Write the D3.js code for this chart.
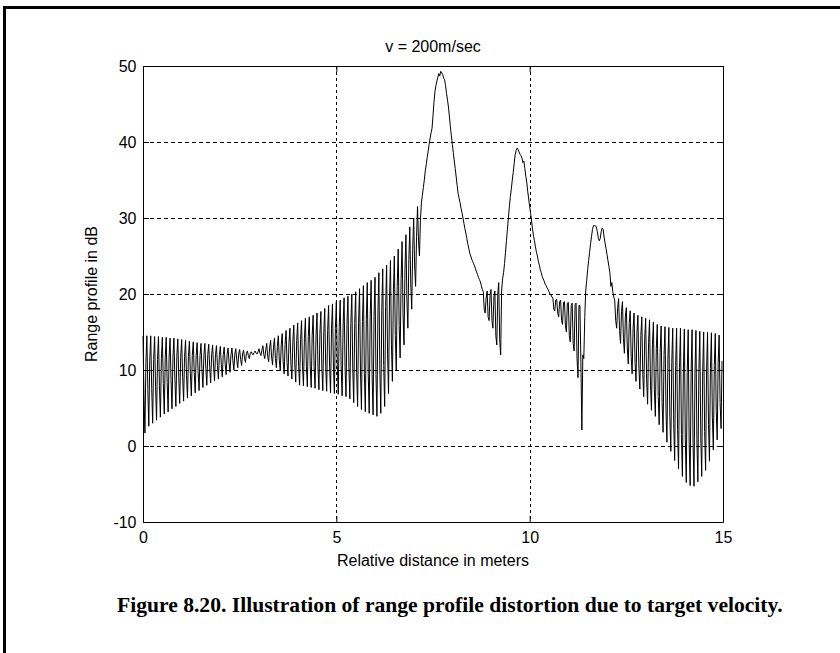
<!DOCTYPE html>
<html>
<head>
<meta charset="utf-8">
<script src="https://cdn.jsdelivr.net/npm/d3@7"></script>
<style>
    body { margin: 0; background: #fff; }
    .axis text, .label { font-family: "Liberation Sans", Arial, sans-serif; font-size: 16px; fill: #000; }
    .caption { font-family: "Liberation Serif", "Times New Roman", serif; font-weight: bold; font-size: 21.6px; fill: #000; }
</style>
</head>
<body>
<div id="chart"></div>
<script>
// range profile in dB, one sample every 0.025 m
// each 0.1 m cell holds 4 samples: top, inner low, bottom, inner high
const sampleStep = 0.025;

const topDb = [
    14.5, 14.5, 14.5, 14.4, 14.4, 14.3, 14.3, 14.2, 14.2, 14.1,
    14.0, 13.9, 13.8, 13.7, 13.6, 13.5, 13.5, 13.4, 13.3, 13.2,
    13.1, 13.0, 12.9, 12.9, 12.8, 12.7, 12.6, 12.5, 12.4, 12.5,
    12.8, 13.2, 13.5, 13.9, 14.2, 14.5, 14.8, 15.2, 15.5, 15.9,
    16.2, 16.5, 16.8, 17.0, 17.2, 17.5, 17.7, 18.1, 18.5, 18.7,
    19.0, 19.2, 19.5, 19.7, 20.0, 20.3, 20.7, 21.1, 21.5, 21.8,
    22.2, 22.8, 23.3, 23.8, 24.4, 25.0, 25.9, 26.9, 27.8, 28.8,
    30.0, 31.5, 32.0, 36.2, 39.7, 43.5, 48.0, 49.3, 48.2, 44.6,
    39.7, 35.4, 32.0, 29.3, 26.6, 24.6, 23.3, 21.9, 20.3, 20.4,
    20.6, 20.4, 21.5, 22.0, 27.0, 32.8, 37.2, 39.0, 37.9, 35.5,
    31.5, 27.6, 25.0, 22.8, 21.3, 20.3, 19.5, 19.3, 19.2, 19.0,
    18.9, 18.8, 18.8, 18.5, 11.5, 23.2, 27.6, 29.0, 27.0, 28.5,
    25.2, 21.0, 19.2, 19.4, 19.0, 18.2, 17.8, 17.5, 17.2, 17.0,
    16.8, 16.6, 16.3, 16.0, 15.8, 15.7, 15.6, 15.5, 15.5, 15.5,
    15.4, 15.3, 15.3, 15.2, 15.1, 15.0, 15.0, 14.9, 14.8, 14.6
];

const innerLowDb = [
    6.8, 7.4, 7.6, 7.8, 8.0, 8.2, 8.4, 8.6, 8.8, 9.0,
    9.1, 9.3, 9.5, 9.7, 9.8, 10.0, 10.2, 10.3, 10.5, 10.6,
    10.7, 10.8, 11.0, 11.2, 11.3, 11.4, 11.6, 11.9, 12.1, 12.2,
    12.2, 12.0, 11.8, 11.7, 11.5, 11.3, 11.1, 11.0, 10.8, 10.7,
    10.5, 10.5, 10.5, 10.5, 10.5, 10.4, 10.4, 10.5, 10.5, 10.4,
    10.5, 10.4, 10.4, 10.3, 10.0, 9.7, 9.6, 9.5, 9.5, 9.4,
    9.4, 9.9, 10.6, 12.0, 13.3, 14.5, 15.9, 17.4, 19.2, 21.2,
    23.7, 27.0, 33.0, 37.0, 40.5, 45.2, 48.5, 49.1, 47.4, 43.3,
    38.6, 34.3, 31.3, 28.6, 26.0, 24.3, 22.9, 21.6, 18.0, 17.0,
    16.5, 14.5, 14.0, 22.8, 28.5, 33.8, 38.3, 38.7, 37.3, 34.7,
    30.6, 27.0, 24.3, 22.3, 21.1, 20.0, 18.0, 17.5, 16.5, 15.8,
    14.5, 13.5, 11.5, 11.0, 17.0, 24.4, 28.5, 28.8, 27.3, 27.5,
    24.4, 21.5, 16.5, 15.2, 14.1, 12.9, 11.8, 11.0, 10.2, 9.4,
    8.7, 8.0, 7.4, 6.5, 5.7, 4.8, 3.9, 3.0, 2.2, 1.5,
    0.9, 0.5, 0.5, 0.9, 1.3, 1.9, 2.8, 3.8, 4.7, 5.7
];

const bottomDb = [
    1.7, 2.6, 3.0, 3.4, 3.8, 4.2, 4.5, 4.9, 5.2, 5.6,
    5.9, 6.3, 6.6, 7.0, 7.3, 7.7, 8.0, 8.3, 8.6, 8.8,
    9.1, 9.4, 9.7, 10.0, 10.3, 10.6, 11.0, 11.5, 12.0, 12.1,
    11.9, 11.5, 11.1, 10.7, 10.3, 9.9, 9.5, 9.2, 8.8, 8.4,
    8.0, 7.9, 7.8, 7.7, 7.6, 7.4, 7.3, 7.2, 7.0, 6.9,
    6.8, 6.6, 6.5, 6.2, 5.7, 5.2, 4.8, 4.5, 4.3, 4.1,
    3.9, 4.3, 5.2, 6.9, 8.5, 10.0, 11.6, 13.3, 15.5, 18.0,
    21.0, 25.0, 34.0, 38.0, 41.2, 46.6, 49.0, 48.9, 46.4, 42.0,
    37.5, 33.2, 30.7, 28.0, 25.4, 24.0, 22.6, 21.1, 17.5, 16.5,
    15.5, 13.3, 12.0, 24.0, 30.0, 35.0, 38.9, 38.4, 37.5, 33.5,
    29.6, 26.2, 23.8, 22.0, 20.8, 19.9, 17.8, 17.0, 16.0, 15.0,
    13.7, 12.5, 9.0, 2.1, 20.5, 25.5, 29.0, 28.2, 28.2, 26.7,
    23.6, 20.3, 15.5, 13.5, 12.2, 10.8, 9.5, 8.5, 7.5, 6.5,
    5.5, 4.7, 3.9, 2.8, 1.8, 0.5, -0.7, -1.9, -3.0, -4.0,
    -4.8, -5.2, -5.3, -4.7, -4.0, -3.2, -2.0, -0.5, 0.8, 2.3
];

const innerHighDb = [
    11.0, 11.3, 11.4, 11.4, 11.5, 11.6, 11.7, 11.7, 11.8, 11.8,
    11.8, 11.8, 11.9, 11.9, 11.9, 11.9, 12.0, 12.0, 12.0, 12.0,
    12.0, 12.0, 12.0, 12.1, 12.1, 12.1, 12.2, 12.2, 12.3, 12.4,
    12.6, 12.7, 12.9, 13.0, 13.1, 13.3, 13.4, 13.6, 13.7, 13.9,
    14.0, 14.2, 14.4, 14.5, 14.6, 14.8, 14.9, 15.2, 15.4, 15.5,
    15.7, 15.8, 16.0, 16.1, 16.1, 16.2, 16.4, 16.6, 16.9, 17.0,
    17.3, 17.8, 18.4, 19.2, 20.1, 21.0, 22.0, 23.2, 24.5, 25.9,
    27.6, 29.7, 35.0, 38.8, 41.8, 47.4, 48.7, 48.4, 45.5, 40.8,
    36.5, 32.6, 30.0, 27.3, 25.0, 23.7, 22.2, 20.6, 19.5, 19.8,
    19.6, 20.0, 20.5, 25.5, 31.5, 36.0, 39.2, 38.2, 36.5, 32.5,
    28.5, 25.5, 23.2, 21.7, 20.6, 19.6, 19.2, 19.0, 18.9, 18.8,
    18.5, 18.6, 18.5, 12.0, 21.8, 26.6, 29.0, 27.4, 28.7, 26.0,
    22.8, 19.6, 18.2, 17.7, 17.1, 16.1, 15.5, 15.0, 14.5, 14.1,
    13.6, 13.3, 12.8, 12.3, 11.9, 11.4, 11.0, 10.6, 10.3, 10.0,
    9.7, 9.6, 9.5, 9.6, 9.8, 9.9, 10.2, 10.6, 10.9, 11.2
];

const xTicks = [0, 5, 10, 15];
const yTicks = [-10, 0, 10, 20, 30, 40, 50];
const xGrid = [5, 10];
const yGrid = [0, 10, 20, 30, 40];

const titleText = 'v = 200m/sec';
const xLabelText = 'Relative distance in meters';
const yLabelText = 'Range profile in dB';
const captionText = 'Figure 8.20. Illustration of range profile distortion due to target velocity.';

class RangeProfileChart {

    constructor(_config, _data) {
        this.config = {
            parentElement: _config.parentElement,
            containerWidth: _config.containerWidth || 840,
            containerHeight: _config.containerHeight || 653,
            margin: _config.margin || { top: 66, right: 117, bottom: 131, left: 143 }
        };
        this.data = _data;
        this.initVis();
    }

    initVis() {
        let vis = this;

        vis.width = vis.config.containerWidth - vis.config.margin.left - vis.config.margin.right;
        vis.height = vis.config.containerHeight - vis.config.margin.top - vis.config.margin.bottom;

        vis.svg = d3.select(vis.config.parentElement)
            .append('svg')
            .attr('width', vis.config.containerWidth)
            .attr('height', vis.config.containerHeight);

        // page frame (only top and left edge are visible)
        vis.svg.append('rect')
            .attr('x', 4.5)
            .attr('y', 7.5)
            .attr('width', 1000)
            .attr('height', 1000)
            .attr('fill', 'none')
            .attr('stroke', '#000')
            .attr('stroke-width', 3);

        vis.chart = vis.svg.append('g')
            .attr('transform', `translate(${vis.config.margin.left},${vis.config.margin.top})`);

        vis.xScale = d3.scaleLinear()
            .domain([0, 15])
            .range([0, vis.width]);

        vis.yScale = d3.scaleLinear()
            .domain([-10, 50])
            .range([vis.height, 0]);

        vis.updateVis();
    }

    updateVis() {
        let vis = this;

        vis.points = [];
        vis.data.top.forEach((v, k) => {
            const phases = [vis.data.top[k], vis.data.innerLow[k], vis.data.bottom[k], vis.data.innerHigh[k]];
            phases.forEach((y, j) => {
                vis.points.push({ x: (k * 4 + j) * sampleStep, y: y });
            });
        });

        vis.line = d3.line()
            .x(d => vis.xScale(d.x))
            .y(d => vis.yScale(d.y));

        vis.renderVis();
    }

    renderVis() {
        let vis = this;

        // dotted grid
        vis.chart.append('g')
            .selectAll('line.vgrid')
            .data(xGrid)
            .join('line')
            .attr('class', 'vgrid')
            .attr('x1', d => Math.round(vis.xScale(d)) + 0.5)
            .attr('x2', d => Math.round(vis.xScale(d)) + 0.5)
            .attr('y1', 0)
            .attr('y2', vis.height)
            .attr('stroke', '#000')
            .attr('stroke-dasharray', '3,3');

        vis.chart.append('g')
            .selectAll('line.hgrid')
            .data(yGrid)
            .join('line')
            .attr('class', 'hgrid')
            .attr('x1', 0)
            .attr('x2', vis.width)
            .attr('y1', d => Math.round(vis.yScale(d)) + 0.5)
            .attr('y2', d => Math.round(vis.yScale(d)) + 0.5)
            .attr('stroke', '#000')
            .attr('stroke-dasharray', '4,3');

        // the profile
        vis.chart.append('path')
            .datum(vis.points)
            .attr('fill', 'none')
            .attr('stroke', '#000')
            .attr('stroke-width', 1)
            .attr('d', vis.line);

        // axes with inward ticks on all four sides, plain hyphen for negatives
        const plain = d => String(d);
        const xAxis = d3.axisBottom(vis.xScale).tickValues(xTicks).tickFormat(plain).tickSize(-6).tickSizeOuter(0).tickPadding(9.5);
        const yAxis = d3.axisLeft(vis.yScale).tickValues(yTicks).tickFormat(plain).tickSize(-6).tickSizeOuter(0).tickPadding(6.5);
        const xAxisTop = d3.axisTop(vis.xScale).tickValues(xTicks).tickSize(-6).tickSizeOuter(0).tickFormat('');
        const yAxisRight = d3.axisRight(vis.yScale).tickValues(yTicks).tickSize(-6).tickSizeOuter(0).tickFormat('');

        vis.chart.append('g').attr('class', 'axis')
            .attr('transform', `translate(0,${vis.height})`)
            .call(xAxis);
        vis.chart.append('g').attr('class', 'axis')
            .call(yAxis);
        vis.chart.append('g').attr('class', 'axis')
            .call(xAxisTop);
        vis.chart.append('g').attr('class', 'axis')
            .attr('transform', `translate(${vis.width},0)`)
            .call(yAxisRight);

        vis.chart.selectAll('.axis path, .axis line').attr('stroke', '#000');
        vis.chart.selectAll('.axis text').attr('font-family', null).attr('font-size', null);

        vis.chart.append('text')
            .attr('class', 'label')
            .attr('text-anchor', 'middle')
            .attr('x', vis.width / 2)
            .attr('y', -14)
            .text(titleText);

        vis.chart.append('text')
            .attr('class', 'label')
            .attr('text-anchor', 'middle')
            .attr('x', vis.width / 2)
            .attr('y', vis.height + 44)
            .text(xLabelText);

        vis.chart.append('text')
            .attr('class', 'label')
            .attr('text-anchor', 'middle')
            .attr('transform', `translate(-46,${vis.height / 2}) rotate(-90)`)
            .text(yLabelText);

        vis.svg.append('text')
            .attr('class', 'caption')
            .attr('x', 117)
            .attr('y', 612)
            .text(captionText);
    }
}

new RangeProfileChart({ parentElement: '#chart' }, {
    top: topDb,
    innerLow: innerLowDb,
    bottom: bottomDb,
    innerHigh: innerHighDb
});
</script>
</body>
</html>
